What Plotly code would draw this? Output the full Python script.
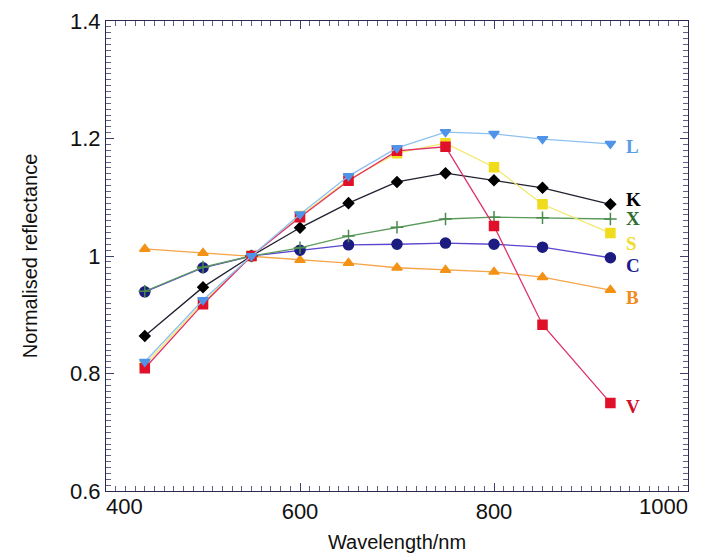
import plotly.graph_objects as go

wavelength = [440, 500, 550, 600, 650, 700, 750, 800, 850, 920]

L_vals = [0.820, 0.925, 1.000, 1.071, 1.136, 1.184, 1.211, 1.208, 1.199, 1.191]
V_vals = [0.809, 0.918, 1.000, 1.066, 1.128, 1.179, 1.186, 1.051, 0.883, 0.750]
S_vals = [0.815, 0.921, 1.000, 1.068, 1.130, 1.175, 1.192, 1.151, 1.088, 1.039]
K_vals = [0.864, 0.947, 1.000, 1.048, 1.090, 1.126, 1.141, 1.129, 1.116, 1.088]
X_vals = [0.940, 0.981, 1.000, 1.014, 1.034, 1.049, 1.063, 1.066, 1.065, 1.063]
C_vals = [0.939, 0.980, 1.000, 1.010, 1.019, 1.020, 1.022, 1.020, 1.015, 0.997]
B_vals = [1.012, 1.005, 1.000, 0.993, 0.988, 0.980, 0.976, 0.973, 0.964, 0.942]

x_range = [400, 1000]
x_mid_ticks = [600, 800]
x_first_tick = [400]
x_last_tick = [1000]
x_major_ticks = [400, 600, 800, 1000]
y_tick_vals = [0.6, 0.8, 1.0, 1.2, 1.4]

series_names = ["B", "C", "X", "K", "S", "V", "L"]
label_y = {"L": 1.187, "K": 1.096, "X": 1.063, "S": 1.022, "C": 0.983, "B": 0.929, "V": 0.743}

styles = {
    "B": dict(vals=B_vals, line="#f5a54a", marker="#f39214", symbol="triangle-up", size=9, text="#f08c1a"),
    "C": dict(vals=C_vals, line="#5a46d0", marker="#1c1c80", symbol="circle", size=10, text="#1c1c90"),
    "X": dict(vals=X_vals, line="#5c9a5c", marker="#4a8a4a", symbol="cross-thin", size=9, text="#2e6e2e"),
    "K": dict(vals=K_vals, line="#202030", marker="#000000", symbol="diamond", size=8, text="#000000"),
    "S": dict(vals=S_vals, line="#f2e86a", marker="#f0dc1c", symbol="square", size=9, text="#f0dc30"),
    "V": dict(vals=V_vals, line="#e0306a", marker="#e0102a", symbol="square", size=9, text="#d0102a"),
    "L": dict(vals=L_vals, line="#8ec0f0", marker="#4f94e8", symbol="triangle-down", size=9, text="#5a9ce8"),
}

fig = go.Figure()
for name in series_names:
    st = styles[name]
    fig.add_trace(go.Scatter(
        x=wavelength, y=st["vals"], mode="lines+markers", name=name,
        line=dict(color=st["line"], width=1.3),
        marker=dict(color=st["marker"], symbol=st["symbol"], size=st["size"],
                    line=dict(color=st["marker"], width=1.5)),
        showlegend=False,
    ))
    fig.add_annotation(
        x=934, y=label_y[name], text="<b>%s</b>" % name, showarrow=False,
        xanchor="left", yanchor="middle",
        font=dict(family="Liberation Serif", size=19, color=st["text"]),
    )

# empty helper traces so the edge tick-label axes are drawn
fig.add_trace(go.Scatter(x=[], y=[], xaxis="x2", showlegend=False, hoverinfo="skip"))
fig.add_trace(go.Scatter(x=[], y=[], xaxis="x3", showlegend=False, hoverinfo="skip"))

tick_font = dict(family="Liberation Sans", size=22, color="#111111")
axis_common = dict(
    showgrid=False, zeroline=False, showline=True, linecolor="#2a2a50", linewidth=1.2,
    mirror="ticks", ticks="inside", ticklen=8, tickcolor="#404070", tickwidth=1,
    tickfont=tick_font, automargin=False,
)

fig.update_layout(
    xaxis=dict(
        range=x_range, tickvals=x_major_ticks,
        ticktext=["" if v not in x_mid_ticks else str(v) for v in x_major_ticks],
        **axis_common,
        minor=dict(dtick=10, ticks="inside", ticklen=5, tickcolor="#606088", tickwidth=1),
        title=dict(text="Wavelength/nm", font=dict(family="Liberation Sans", size=20, color="#111111"), standoff=12),
    ),
    xaxis2=dict(
        range=x_range, overlaying="x", side="bottom", anchor="y",
        tickvals=x_last_tick, ticktext=[str(v) for v in x_last_tick],
        ticklabelposition="outside left", ticks="", showline=False, showgrid=False, zeroline=False,
        tickfont=tick_font, automargin=False, ticklabeloverflow="allow",
    ),
    xaxis3=dict(
        range=x_range, overlaying="x", side="bottom", anchor="y",
        tickvals=x_first_tick, ticktext=[str(v) for v in x_first_tick],
        ticklabelposition="outside right", ticks="", showline=False, showgrid=False, zeroline=False,
        tickfont=tick_font, automargin=False, ticklabeloverflow="allow",
    ),
    yaxis=dict(
        range=[0.6, 1.4], tickvals=y_tick_vals, **axis_common,
        minor=dict(dtick=0.01, ticks="inside", ticklen=5, tickcolor="#606088", tickwidth=1),
        title=dict(text="Normalised reflectance", font=dict(family="Liberation Sans", size=20, color="#111111"), standoff=26),
    ),
    width=710, height=556,
    margin=dict(l=106, r=22, t=21, b=65),
    paper_bgcolor="white", plot_bgcolor="white",
)

fig.write_html("out.html")
